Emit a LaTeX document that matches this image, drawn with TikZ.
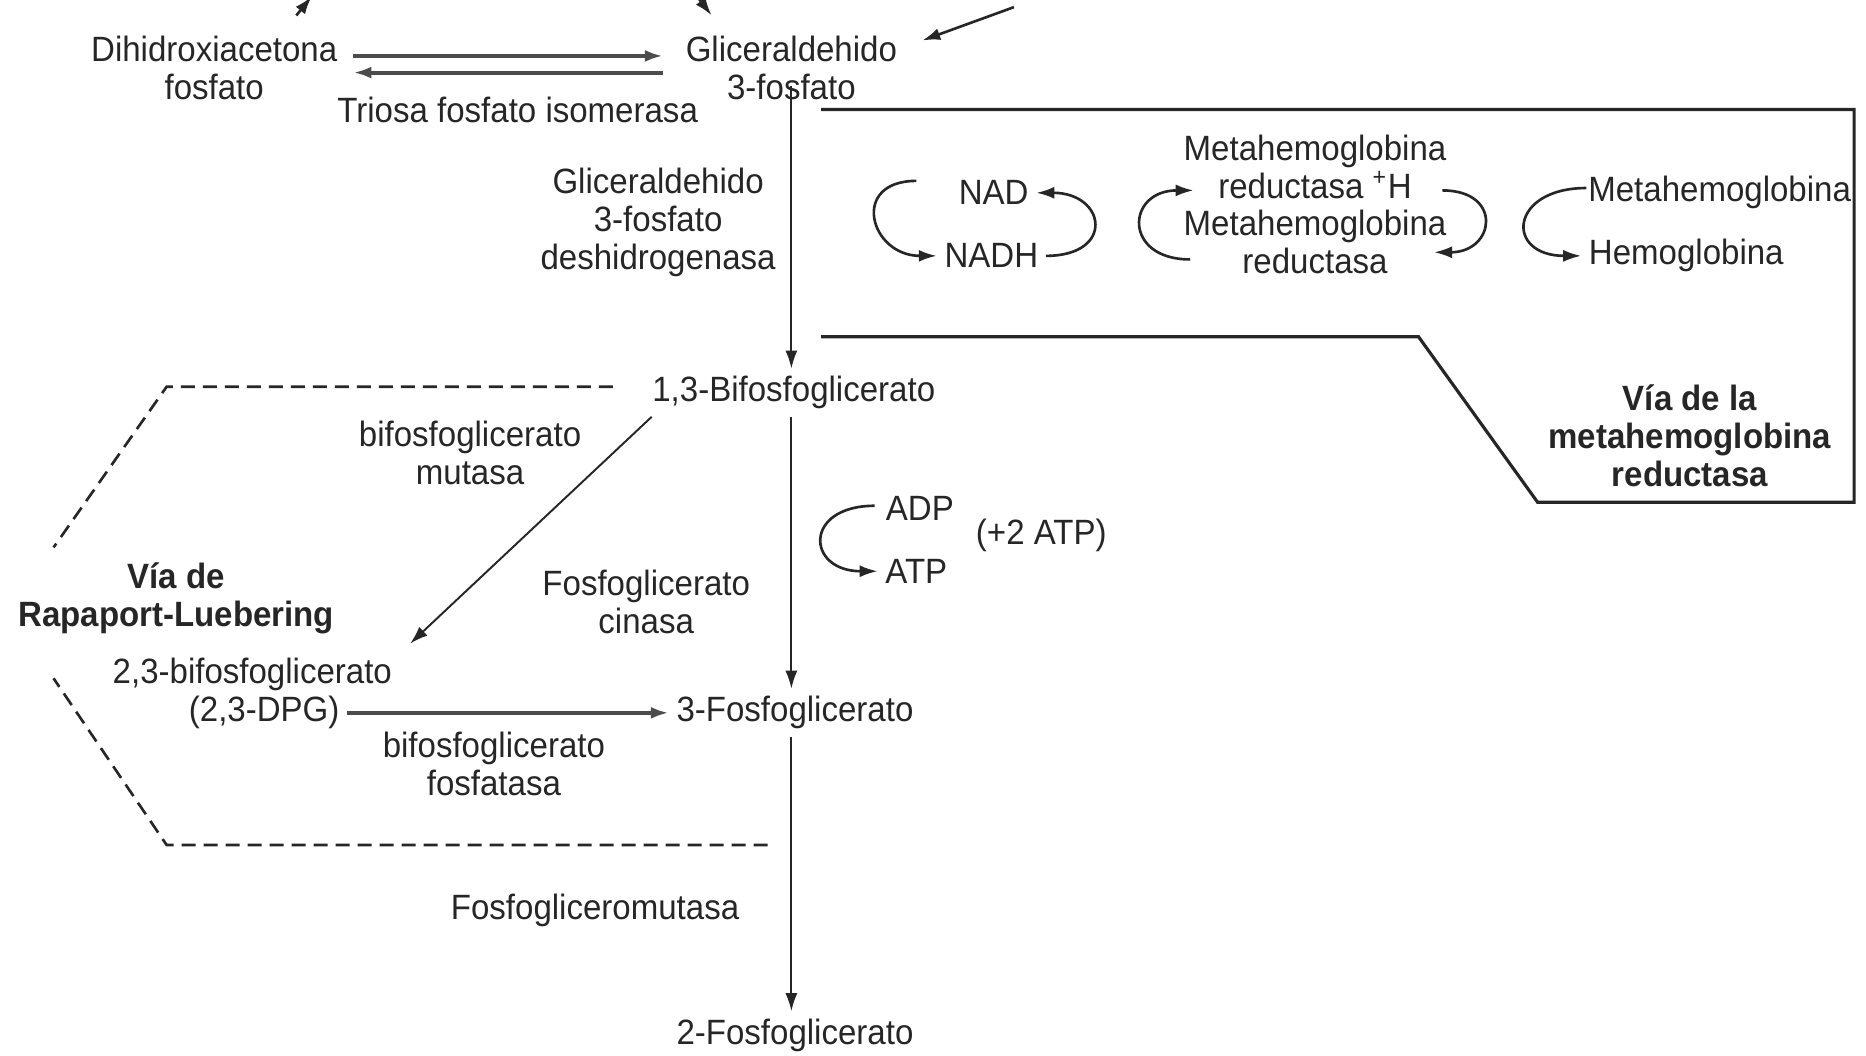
\documentclass[tikz,border=0pt]{standalone}
\usepackage{fontspec}
\setmainfont[FakeStretch=0.94]{Liberation Sans}
\usetikzlibrary{positioning,arrows.meta,calc}

\begin{document}
\begin{tikzpicture}[
    x=0.119mm, y=-0.119mm,
    font=\fontsize{10}{10.8}\selectfont,
    % metabolites and enzyme names (plain text, no boxes)
    met/.style={align=center, inner sep=2pt, text=black!85},
    enz/.style={met},
    vtitle/.style={met, font=\fontsize{10}{10.8}\selectfont\bfseries},
    % arrows
    arr/.style={-{Latex[length=1.8mm,width=1.2mm]}, line width=0.55pt, black!85},
    harr/.style={arr, line width=1.1pt, black!70},
    cyc/.style={arr, line width=0.75pt},
    % pathway outlines
    boxline/.style={line width=0.9pt, black!85},
    dline/.style={line width=0.75pt, black!85, dash pattern=on 1.4mm off 0.8mm}
  ]
  \useasboundingbox (0,0) rectangle (1568,887);
  \clip (0,0) rectangle (1568,887);

  % ===================== main column: glycolysis =====================
  \node[met] (dhap) at (180,57) {Dihidroxiacetona\\fosfato};
  \node[met] (g3p)  at (665,57) {Gliceraldehido\\3-fosfato};
  \node[met] (bpg13) at (667,330) {1,3-Bifosfoglicerato};
  \node[met] (pg3)  at (668,599) {3-Fosfoglicerato};
  \node[met] (pg2)  at (668,870) {2-Fosfoglicerato};

  \node[enz] (tpi)   at (435,92)  {Triosa fosfato isomerasa};
  \node[enz] (gapdh) at (553,187) {Gliceraldehido\\3-fosfato\\deshidrogenasa};
  \node[enz] (pgk)   at (543,506) {Fosfoglicerato\\cinasa};
  \node[enz] (pgm)   at (500,765) {Fosfogliceromutasa};

  % isomerase (two opposite arrows)
  \coordinate (isoa) at (297,47);  \coordinate (isob) at (557,47);
  \coordinate (isoc) at (557,61);  \coordinate (isod) at (297,61);
  \draw[harr] (isoa) -- (isob);
  \draw[harr] (isoc) -- (isod);

  \draw[arr] ([yshift=6pt]g3p.south) -- (g3p.south |- bpg13.north);
  \draw[arr] (bpg13.south -| g3p.south) -- (pg3.north -| g3p.south);
  \draw[arr] (pg3.south -| g3p.south) -- (pg2.north -| g3p.south);

  % arrows cut by the top edge
  \coordinate (fa1) at (249,13);  \coordinate (fa2) at (262,-3);
  \coordinate (fb1) at (585,-4);  \coordinate (fb2) at (598,13);
  \coordinate (fc1) at (852,6);   \coordinate (fc2) at (775,34);
  \draw[cyc] (fa1) -- (fa2);
  \draw[cyc] (fb1) -- (fb2);
  \draw[cyc] (fc1) -- (fc2);

  % ADP / ATP
  \node[met] (adp)  at (773,427) {ADP};
  \node[met] (atp)  at (770,480) {ATP};
  \node[met] (gain) at (875,450) {(+2 ATP)};
  \coordinate (adpl) at (735,425);
  \draw[cyc] (adpl) to[out=180,in=180,looseness=2.8] (atp.west);

  % ===================== Rapaport-Luebering shunt =====================
  \node[met] (bpg23) at (212,567) {2,3-bifosfoglicerato};
  \node[met] (dpg)   at (222,599) {(2,3-DPG)};
  \node[vtitle] (rltitle) at (148,503) {Vía de\\Rapaport-Luebering};
  \node[enz] (bpgm) at (395,381) {bifosfoglicerato\\mutasa};
  \node[enz] (bpgp) at (415,642) {bifosfoglicerato\\fosfatasa};

  \draw[arr] ([xshift=2pt]bpg13.south west) -- ([xshift=3pt,yshift=2pt]bpg23.north east);
  \draw[harr] (dpg.east) -- (pg3.west);

  \draw[dline] (515,325) -- (140,325) -- (45,460);
  \draw[dline] (645,710) -- (140,710) -- (45,570);

  % ===================== methaemoglobin reductase pathway =====================
  \draw[boxline] (690,92) -- (1558,92) -- (1558,422) -- (1292,422)
                 -- (1192,283) -- (690,283);

  \node[met] (nad)   at (835,162)  {NAD};
  \node[met] (nadh)  at (833,215)  {NADH};
  \node[met] (mbrh)  at (1105,140) {Metahemoglobina\\reductasa \textsuperscript{+}H};
  \node[met] (mbr)   at (1105,203) {Metahemoglobina\\reductasa};
  \node[met] (methb) at (1445,162) {Metahemoglobina};
  \node[met] (hb)    at (1417,215) {Hemoglobina};
  \node[vtitle] (mtitle) at (1420,366) {Vía de la\\metahemoglobina\\reductasa};

  \coordinate (nadl)  at (770,152);
  \coordinate (mbl1)  at (1000,218);  \coordinate (mbl2) at (1003,160);
  \coordinate (mbr1)  at (1212,160);  \coordinate (mbr2) at (1205,212);
  \coordinate (methl) at (1333,158);
  \draw[cyc] (nadl) to[out=180,in=180,looseness=2.2] (nadh.west);
  \draw[cyc] (nadh.east) to[out=0,in=0,looseness=2.8] (nad.east);
  \draw[cyc] (mbl1) to[out=180,in=180,looseness=2.5] (mbl2);
  \draw[cyc] (mbr1) to[out=0,in=0,looseness=2.5] (mbr2);
  \draw[cyc] (methl) to[out=180,in=180,looseness=2.9] (hb.west);

\end{tikzpicture}
\end{document}
